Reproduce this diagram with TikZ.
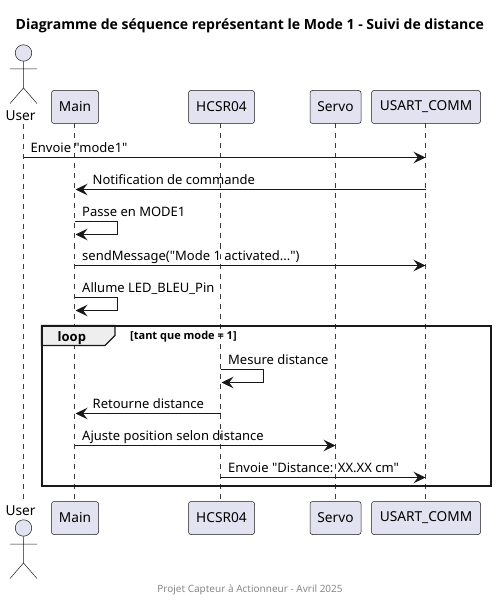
\documentclass[tikz,border=0pt]{standalone}
\usepackage{fontspec}
\setmainfont{Noto Sans}[Ligatures=TeXOff]
\newfontfamily\boldfam{Open Sans}[Ligatures=TeXOff]
\usetikzlibrary{arrows.meta}
\definecolor{partfill}{HTML}{E2E2F0}
\definecolor{ink}{HTML}{181818}
\definecolor{tabfill}{HTML}{EEEEEE}
\definecolor{foot}{HTML}{888888}
\tikzset{
  x=1pt,y=-1pt,
  part/.style={draw=ink,fill=partfill,line width=0.5pt,rounded corners=2.5pt,minimum height=33pt,inner sep=0pt,font=\fontsize{13.7}{15}\selectfont,text=black},
  lifeline/.style={draw=ink!85,line width=0.5pt,dash pattern=on 5pt off 5pt},
  msg/.style={draw=ink,line width=0.8pt,-{Stealth[length=12pt,width=11.5pt,inset=4.5pt]}},
  lbl/.style={anchor=base west,inner sep=0pt,font=\fontsize{13}{15}\selectfont,text=black},
  actorline/.style={draw=ink,line width=0.5pt},
  actorhead/.style={circle,draw=ink,fill=partfill,line width=0.5pt,minimum size=16.5pt,inner sep=0pt},
  actortext/.style={anchor=base,inner sep=0pt,font=\fontsize{13.7}{15}\selectfont,text=black},
}
\begin{document}
\begin{tikzpicture}
\useasboundingbox (0,0) rectangle (500,601);
\node[anchor=base,inner sep=0pt,font=\fontsize{14.05}{16}\selectfont\boldfam\bfseries] (title) at (249.8,30) {Diagramme de séquence représentant le Mode 1 - Suivi de distance};
% lifeline ends
\coordinate (userT) at (23.5,124);
\coordinate (userB) at (23.5,499);
% participants
\node[part,minimum width=47pt] (mainT) at (75,107) {Main};
\node[part,minimum width=66pt] (hcT) at (221.5,107) {HCSR04};
\node[part,minimum width=51pt] (servoT) at (335.5,107) {Servo};
\node[part,minimum width=109pt] (usartT) at (426,107) {USART\_COMM};
\node[part,minimum width=47pt] (mainB) at (75,518) {Main};
\node[part,minimum width=66pt] (hcB) at (221.5,518) {HCSR04};
\node[part,minimum width=51pt] (servoB) at (335.5,518) {Servo};
\node[part,minimum width=109pt] (usartB) at (426,518) {USART\_COMM};
\coordinate (mainTs) at (74.5,123.5);
\coordinate (mainBs) at (74.5,501.5);
\coordinate (hcTs) at (220.5,123.5);
\coordinate (hcBs) at (220.5,501.5);
\coordinate (servoTs) at (335.5,123.5);
\coordinate (servoBs) at (335.5,501.5);
\coordinate (usartTs) at (425.5,123.5);
\coordinate (usartBs) at (425.5,501.5);
\draw[lifeline] (userT) -- (userB);
\draw[lifeline] (mainTs) -- (mainBs);
\draw[lifeline] (hcTs) -- (hcBs);
\draw[lifeline] (servoTs) -- (servoBs);
\draw[lifeline] (usartTs) -- (usartBs);
% actor top
\node[actorhead] (headT) at (23.5,53) {};
\coordinate (hipT) at (23.5,88);
\coordinate (armLT) at (10,69);
\coordinate (armRT) at (37,69);
\coordinate (legLT) at (10,103.5);
\coordinate (legRT) at (37,103.5);
\draw[actorline] (headT.south) -- (hipT) (armLT) -- (armRT) (legLT) -- (hipT) -- (legRT);
\node[actortext] (userTopText) at (20.5,120.5) {User};
% actor bottom
\node[actorhead] (headB) at (23.5,528) {};
\coordinate (hipB) at (23.5,563);
\coordinate (armLB) at (10,544);
\coordinate (armRB) at (37,544);
\coordinate (legLB) at (10,578.5);
\coordinate (legRB) at (37,578.5);
\draw[actorline] (headB.south) -- (hipB) (armLB) -- (armRB) (legLB) -- (hipB) -- (legRB);
\node[actortext] (userBotText) at (20.5,515.5) {User};
% loop frame
\coordinate (loopA) at (41.5,325.5);
\coordinate (loopB) at (490.5,485.5);
\coordinate (tabA) at (115,325.5);
\coordinate (tabB) at (115,335.5);
\coordinate (tabC) at (105,345.5);
\coordinate (tabD) at (41.5,345.5);
\draw[fill=tabfill,draw=ink,line width=1.4pt] (loopA) -- (tabA) -- (tabB) -- (tabC) -- (tabD) -- cycle;
\draw[draw=black!90,line width=2pt] (loopA) rectangle (loopB);
\node[anchor=base west,inner sep=0pt,font=\fontsize{13}{15}\selectfont\boldfam\bfseries] (loopT) at (57.5,341) {loop};
\node[anchor=base west,inner sep=0pt,font=\fontsize{11}{13}\selectfont\boldfam\bfseries] (loopG) at (130,339) {[tant que mode = 1]};
% messages
\coordinate (a1) at (23.5,157.5); \coordinate (b1) at (425.5,157.5);
\draw[msg] (a1) -- (b1);
\node[lbl] (t1) at (30.5,152.6) {Envoie "mode1"};
\coordinate (a2) at (425.5,189.5); \coordinate (b2) at (75.5,189.5);
\draw[msg] (a2) -- (b2);
\node[lbl] (t2) at (92.5,184.6) {Notification de commande};
\coordinate (a3) at (74.5,221.5); \coordinate (c3) at (117.5,221.5); \coordinate (d3) at (117.5,234.5); \coordinate (b3) at (75.5,234.5);
\draw[msg] (a3) -- (c3) -- (d3) -- (b3);
\node[lbl] (t3) at (82,216.6) {Passe en MODE1};
\coordinate (a4) at (74.5,265.5); \coordinate (b4) at (425.5,265.5);
\draw[msg] (a4) -- (b4);
\node[lbl] (t4) at (82,260.6) {sendMessage("Mode 1 activated...")};
\coordinate (a5) at (74.5,297.5); \coordinate (c5) at (117.5,297.5); \coordinate (d5) at (117.5,310.5); \coordinate (b5) at (75.5,310.5);
\draw[msg] (a5) -- (c5) -- (d5) -- (b5);
\node[lbl] (t5) at (82,292.6) {Allume LED\_BLEU\_Pin};
\coordinate (a6) at (220.5,369.5); \coordinate (c6) at (263.5,369.5); \coordinate (d6) at (263.5,382.5); \coordinate (b6) at (221.5,382.5);
\draw[msg] (a6) -- (c6) -- (d6) -- (b6);
\node[lbl] (t6) at (228,364.6) {Mesure distance};
\coordinate (a7) at (220.5,413.5); \coordinate (b7) at (75.5,413.5);
\draw[msg] (a7) -- (b7);
\node[lbl] (t7) at (92.5,408.6) {Retourne distance};
\coordinate (a8) at (74.5,445.5); \coordinate (b8) at (335.5,445.5);
\draw[msg] (a8) -- (b8);
\node[lbl] (t8) at (82,440.6) {Ajuste position selon distance};
\coordinate (a9) at (220.5,477.5); \coordinate (b9) at (425.5,477.5);
\draw[msg] (a9) -- (b9);
\node[lbl] (t9) at (228,472.6) {Envoie "Distance: XX.XX cm"};
% footer
\node[anchor=base,inner sep=0pt,font=\fontsize{10}{12}\selectfont,text=foot] (footer) at (250,592) {Projet Capteur à Actionneur - Avril 2025};
\end{tikzpicture}
\end{document}
